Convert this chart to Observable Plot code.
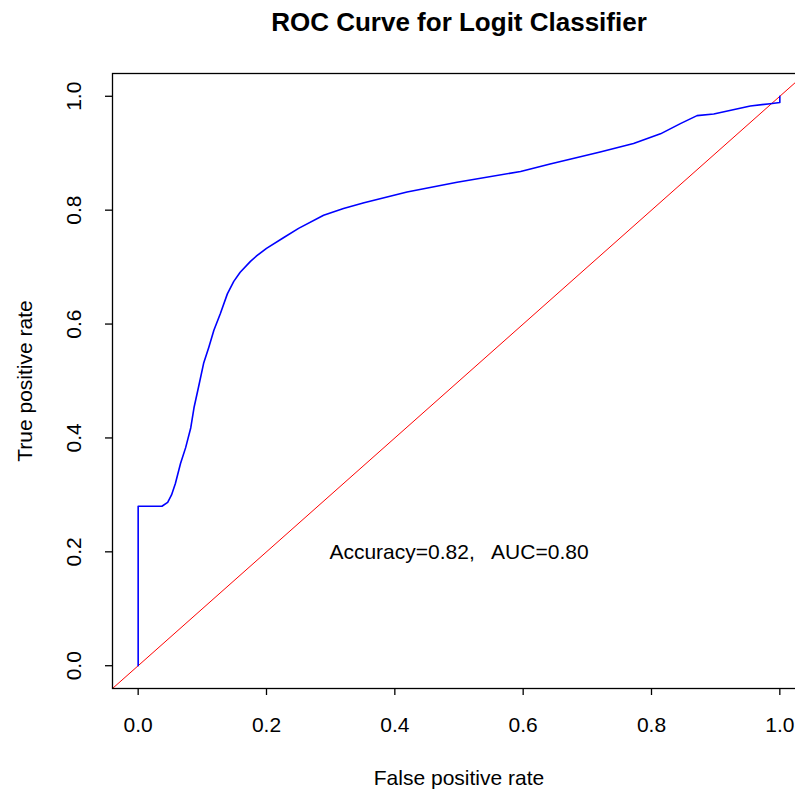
<!DOCTYPE html>
<html>
<head>
<meta charset="utf-8">
<script src="https://cdn.jsdelivr.net/npm/d3@7"></script>
<script src="https://cdn.jsdelivr.net/npm/@observablehq/plot@0.6"></script>
<style>
  html, body { margin: 0; padding: 0; background: #fff; overflow: hidden; }
</style>
</head>
<body>
<div id="chart"></div>
<script>
// ROC curve points (false positive rate, true positive rate)
const fpr = [0, 0, 0.037, 0.046, 0.052, 0.058, 0.066, 0.074, 0.082, 0.087, 0.094, 0.102, 0.110, 0.118, 0.128, 0.139, 0.149, 0.159, 0.175, 0.185, 0.200, 0.227, 0.250, 0.289, 0.320, 0.352, 0.419, 0.497, 0.596, 0.642, 0.720, 0.772, 0.814, 0.845, 0.871, 0.897, 0.954, 0.985, 1.0, 1.0];
const tpr = [0, 0.280, 0.280, 0.287, 0.300, 0.320, 0.355, 0.383, 0.418, 0.453, 0.489, 0.531, 0.559, 0.589, 0.618, 0.653, 0.675, 0.691, 0.710, 0.720, 0.733, 0.752, 0.768, 0.791, 0.803, 0.813, 0.832, 0.849, 0.868, 0.881, 0.902, 0.917, 0.934, 0.952, 0.966, 0.969, 0.983, 0.987, 0.989, 1.0];

const xTicks = [0, 0.2, 0.4, 0.6, 0.8, 1.0];
const xTickLabels = ["0.0", "0.2", "0.4", "0.6", "0.8", "1.0"];
const yTicks = [0, 0.2, 0.4, 0.6, 0.8, 1.0];
const yTickLabels = ["0.0", "0.2", "0.4", "0.6", "0.8", "1.0"];

const titleText = "ROC Curve for Logit Classifier";
const xLabel = "False positive rate";
const yLabel = "True positive rate";
const annotation = ["Accuracy=0.82,   AUC=0.80"];
const annotationPos = [0.5, 0.2];

const domain = [-0.04, 1.04];  // R's 4% axis expansion
const roc = fpr.map((x, i) => ({x, y: tpr[i]}));
const refLine = domain.map(v => ({x: v, y: v})); // abline(0, 1)

const font = "'Liberation Sans', Arial, Helvetica, sans-serif";

const chart = Plot.plot({
  width: 806,
  height: 790,
  marginLeft: 112,
  marginRight: 1,
  marginTop: 73,
  marginBottom: 102,
  x: {domain, label: null},
  y: {domain, label: null},
  style: {fontFamily: font, fontSize: "21px", color: "#000", background: "#fff", maxWidth: "none"},
  marks: [
    Plot.line(refLine, {x: "x", y: "y", stroke: "#ff0000", strokeWidth: 1, clip: true}),
    Plot.line(roc, {x: "x", y: "y", stroke: "#0000ff", strokeWidth: 1.6, clip: true}),
    Plot.text(annotation, {x: () => annotationPos[0], y: () => annotationPos[1], text: d => d, fontSize: 21, fill: "#000"}),
    Plot.frame({stroke: "#000", strokeWidth: 1.3}),
    Plot.axisX({ticks: xTicks, tickSize: 7, tickPadding: 22, tickFormat: d => xTickLabels[xTicks.indexOf(d)], label: null, fontSize: 21, stroke: "#000", strokeWidth: 1.3}),
    Plot.axisY({ticks: yTicks, tickSize: 7, tickFormat: () => "", label: null, stroke: "#000", strokeWidth: 1.3}),
    Plot.text(yTicks, {y: d => d, text: d => yTickLabels[yTicks.indexOf(d)], frameAnchor: "left", textAnchor: "middle", lineAnchor: "middle", dx: -38, rotate: -90, fontSize: 21, fill: "#000"}),
    Plot.text([yLabel], {text: d => d, frameAnchor: "left", textAnchor: "middle", lineAnchor: "middle", dx: -87, rotate: -90, fontSize: 21, fill: "#000"}),
    Plot.text([xLabel], {text: d => d, frameAnchor: "bottom", lineAnchor: "middle", dy: 90, fontSize: 21, fill: "#000"}),
    Plot.text([titleText], {text: d => d, frameAnchor: "top", lineAnchor: "middle", dy: -51, fontSize: 26, fontWeight: "bold", fill: "#000"})
  ]
});
document.getElementById("chart").appendChild(chart);
</script>
</body>
</html>
